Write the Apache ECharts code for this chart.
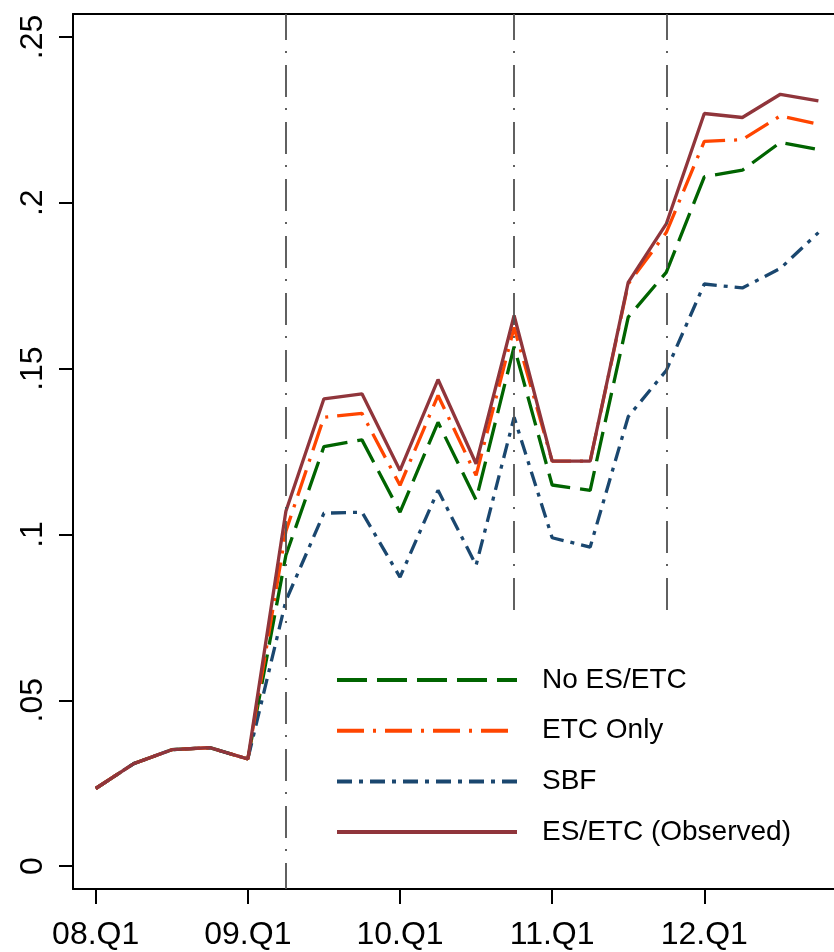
<!DOCTYPE html>
<html>
<head>
<meta charset="utf-8">
<script src="https://cdn.jsdelivr.net/npm/echarts@6/dist/echarts.min.js"></script>
<style>
html, body { margin: 0; padding: 0; background: #fff; }
#chart { width: 834px; height: 952px; }
</style>
</head>
<body>
<div id="chart"></div>
<script>
var quarters = ['08.Q1', '08.Q2', '08.Q3', '08.Q4', '09.Q1', '09.Q2', '09.Q3', '09.Q4',
                '10.Q1', '10.Q2', '10.Q3', '10.Q4', '11.Q1', '11.Q2', '11.Q3', '11.Q4',
                '12.Q1', '12.Q2', '12.Q3', '12.Q4'];
var noEsEtc  = [0.0234, 0.0309, 0.0351, 0.0357, 0.0323, 0.0937, 0.1265, 0.1285, 0.1067, 0.1338,
                0.1104, 0.1566, 0.1149, 0.1133, 0.1655, 0.1790, 0.2078, 0.2098, 0.2182, 0.2160];
var etcOnly  = [0.0234, 0.0309, 0.0351, 0.0357, 0.0323, 0.1010, 0.1353, 0.1365, 0.1148, 0.1419,
                0.1178, 0.1624, 0.1221, 0.1221, 0.1755, 0.1910, 0.2185, 0.2190, 0.2262, 0.2237];
var sbf      = [0.0234, 0.0309, 0.0351, 0.0357, 0.0323, 0.0800, 0.1064, 0.1067, 0.0871, 0.1133,
                0.0907, 0.1353, 0.0990, 0.0962, 0.1355, 0.1494, 0.1755, 0.1743, 0.1802, 0.1910];
var observed = [0.0234, 0.0309, 0.0351, 0.0357, 0.0323, 0.1070, 0.1409, 0.1424, 0.1193, 0.1467,
                0.1213, 0.1660, 0.1221, 0.1221, 0.1760, 0.1936, 0.2269, 0.2257, 0.2327, 0.2307];
var seriesNames = ['No ES/ETC', 'ETC Only', 'SBF', 'ES/ETC (Observed)'];
var xTickIdx = [0, 4, 8, 12, 16];
var yTicks = [0, 0.05, 0.1, 0.15, 0.2, 0.25];
var yTickLabels = ['0', '.05', '.1', '.15', '.2', '.25'];
// quarters where the dash-dot vertical lines sit, and where each one stops at the bottom
var breakIdx = [5, 11, 15];
var breakBottom = [-0.0069, 0.0741, 0.0741];

var yMin = -0.0069, yMax = 0.2569;
var xMin = -0.597, xMax = 19.41;
var font = '"Liberation Sans", Arial, sans-serif';

function pairs(vals) {
    return vals.map(function (v, i) { return [i, v]; });
}

var chart = echarts.init(document.getElementById('chart'));

var breakLines = breakIdx.map(function (q, k) {
    return [{ coord: [q, yMax] }, { coord: [q, breakBottom[k]] }];
});

function lineSeries(name, vals, color, dash, z) {
    return {
        name: name,
        type: 'line',
        data: pairs(vals),
        showSymbol: false,
        symbol: 'none',
        z: z,
        itemStyle: { color: color },
        lineStyle: { color: color, width: 3.3, type: dash }
    };
}

var option = {
    animation: false,
    backgroundColor: '#fff',
    grid: { left: 73, right: 0, top: 14, bottom: 63 },
    legend: {
        data: seriesNames,
        orient: 'vertical',
        left: 330,
        top: 660,
        itemWidth: 180,
        itemHeight: 20,
        itemGap: 20.7,
        selectedMode: false,
        itemStyle: { opacity: 0 },
        lineStyle: { width: 4 },
        textStyle: {
            fontFamily: font,
            fontSize: 28,
            color: '#000',
            lineHeight: 30,
            padding: [0, 0, 0, 20]
        }
    },
    xAxis: [{
        type: 'value',
        min: xMin,
        max: xMax,
        position: 'bottom',
        axisLine: { show: true, onZero: false, lineStyle: { color: '#000', width: 2 } },
        axisTick: { show: true, customValues: xTickIdx, length: 15, lineStyle: { color: '#000', width: 2 } },
        axisLabel: {
            customValues: xTickIdx,
            formatter: function (v) { return quarters[Math.round(v)]; },
            fontFamily: font,
            fontSize: 32,
            color: '#000',
            margin: 30
        },
        splitLine: { show: false }
    }, {
        type: 'value',
        min: xMin,
        max: xMax,
        position: 'top',
        axisLine: { show: true, onZero: false, lineStyle: { color: '#000', width: 2 } },
        axisTick: { show: false },
        axisLabel: { show: false },
        splitLine: { show: false }
    }],
    yAxis: {
        type: 'value',
        min: yMin,
        max: yMax,
        axisLine: { show: true, onZero: false, lineStyle: { color: '#000', width: 2 } },
        axisTick: { show: true, customValues: yTicks, length: 14, lineStyle: { color: '#000', width: 2 } },
        axisLabel: {
            customValues: yTicks,
            rotate: 90,
            formatter: function (v) {
                for (var i = 0; i < yTicks.length; i++) {
                    if (Math.abs(v - yTicks[i]) < 1e-6) return yTickLabels[i];
                }
                return '';
            },
            fontFamily: font,
            fontSize: 32,
            color: '#000',
            margin: 24
        },
        splitLine: { show: false }
    },
    series: [
        {
            name: 'breaks',
            type: 'line',
            data: [],
            z: 1,
            silent: true,
            markLine: {
                silent: true,
                symbol: ['none', 'none'],
                label: { show: false },
                lineStyle: { color: '#505050', width: 1.8, type: [32, 11, 2, 12], dashOffset: 6 },
                data: breakLines
            }
        },
        lineSeries(seriesNames[0], noEsEtc, '#006400', [30, 10], 2),
        lineSeries(seriesNames[1], etcOnly, '#ff4500', [27, 9, 3, 9], 3),
        lineSeries(seriesNames[2], sbf, '#1a476f', [15, 7, 4, 7], 2),
        lineSeries(seriesNames[3], observed, '#90353b', 'solid', 4)
    ]
};

chart.setOption(option);
</script>
</body>
</html>
